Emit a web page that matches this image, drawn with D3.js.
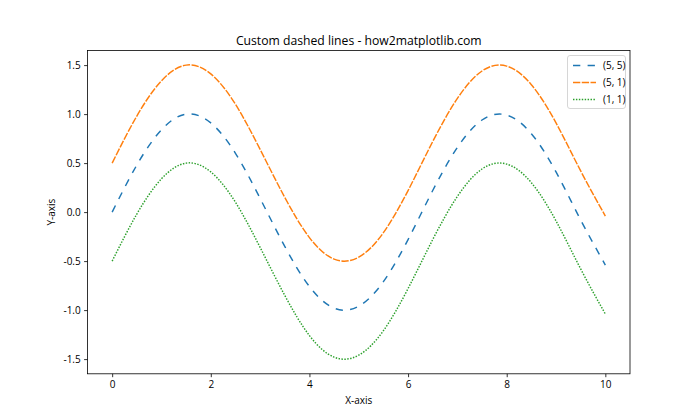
<!DOCTYPE html>
<html><head><meta charset="utf-8">
<script src="https://cdn.jsdelivr.net/npm/d3@7"></script>
<style>
body{margin:0;background:#fff;}
text{font-family:"Open Sans",sans-serif;fill:#000;}
</style></head>
<body><svg id="c" width="700" height="420"></svg>
<script>
const xs = [0,0.5,1,1.5,2,2.5,3,3.5,4,4.5,5,5.5,6,6.5,7,7.5,8,8.5,9,9.5,10];
const blueY = [0.00,0.48,0.84,1.00,0.91,0.60,0.14,-0.35,-0.76,-0.98,-0.96,-0.71,-0.28,0.22,0.66,0.94,0.99,0.80,0.41,-0.08,-0.54];
const orangeY = [0.50,0.98,1.34,1.50,1.41,1.10,0.64,0.15,-0.26,-0.48,-0.46,-0.21,0.22,0.72,1.16,1.44,1.49,1.30,0.91,0.42,-0.04];
const greenY = [-0.50,-0.02,0.34,0.50,0.41,0.10,-0.36,-0.85,-1.26,-1.48,-1.46,-1.21,-0.78,-0.28,0.16,0.44,0.49,0.30,-0.09,-0.58,-1.04];
const seriesNames = ["(5, 5)","(5, 1)","(1, 1)"];
const xTicks = [0,2,4,6,8,10];
const yTicks = [-1.5,-1.0,-0.5,0.0,0.5,1.0,1.5];

const W=700,H=420;
const L=87.5,R=630,T=50.4,B=373.8;
const lw=1.46;
const FONT='"Open Sans",sans-serif';
const svg=d3.select("#c");
const x=d3.scaleLinear().domain([-0.5,10.5]).range([L,R]);
const y=d3.scaleLinear().domain([-1.65,1.65]).range([B,T]);

const series=[
 {name:seriesNames[0],vals:blueY,color:"#1f77b4",dash:[5*lw,5*lw]},
 {name:seriesNames[1],vals:orangeY,color:"#ff7f0e",dash:[5*lw,1*lw]},
 {name:seriesNames[2],vals:greenY,color:"#2ca02c",dash:[1*lw,1*lw]}
];
const line=d3.line().x(d=>x(d[0])).y(d=>y(d[1])).curve(d3.curveNatural);
series.forEach(s=>{
  svg.append("path").attr("d",line(xs.map((v,i)=>[v,s.vals[i]])))
   .attr("fill","none").attr("stroke",s.color).attr("stroke-width",lw)
   .attr("stroke-dasharray",s.dash.join(","));
});

const fmtY=d=>d3.format(".1f")(d).replace("−","-");
const xa=svg.append("g").attr("transform",`translate(0,${B})`)
  .call(d3.axisBottom(x).tickValues(xTicks).tickSize(3.4).tickPadding(3.4).tickFormat(d3.format("d")));
const ya=svg.append("g").attr("transform",`translate(${L},0)`)
  .call(d3.axisLeft(y).tickValues(yTicks).tickSize(3.4).tickPadding(3.4).tickFormat(fmtY));
[xa,ya].forEach(a=>{a.select(".domain").remove();a.selectAll("line").attr("stroke","#000").attr("stroke-width",0.8);
 a.selectAll("text").attr("font-size","10px").style("font-family",FONT);});
svg.append("rect").attr("x",L).attr("y",T).attr("width",R-L).attr("height",B-T)
 .attr("fill","none").attr("stroke","#000").attr("stroke-width",0.8);

svg.append("text").attr("x",(L+R)/2).attr("y",45).attr("text-anchor","middle").attr("font-size","12.2px").text("Custom dashed lines - how2matplotlib.com");
svg.append("text").attr("x",(L+R)/2).attr("y",404).attr("text-anchor","middle").attr("font-size","10px").text("X-axis");
svg.append("text").attr("transform",`translate(55,${(T+B)/2}) rotate(-90)`).attr("text-anchor","middle").attr("font-size","10px").text("Y-axis");

const lg=svg.append("g");
lg.append("rect").attr("x",567.5).attr("y",55.5).attr("width",58).attr("height",53).attr("rx",2.5)
 .attr("fill","#fff").attr("fill-opacity",0.8).attr("stroke","#cccccc").attr("stroke-width",0.8);
series.forEach((s,i)=>{
  const yy=65.5+i*17;
  lg.append("line").attr("x1",573).attr("x2",596).attr("y1",yy).attr("y2",yy)
   .attr("stroke",s.color).attr("stroke-width",lw).attr("stroke-dasharray",s.dash.join(","));
  lg.append("text").attr("x",603).attr("y",yy+3.6).attr("font-size","10px").text(s.name);
});
</script></body></html>
